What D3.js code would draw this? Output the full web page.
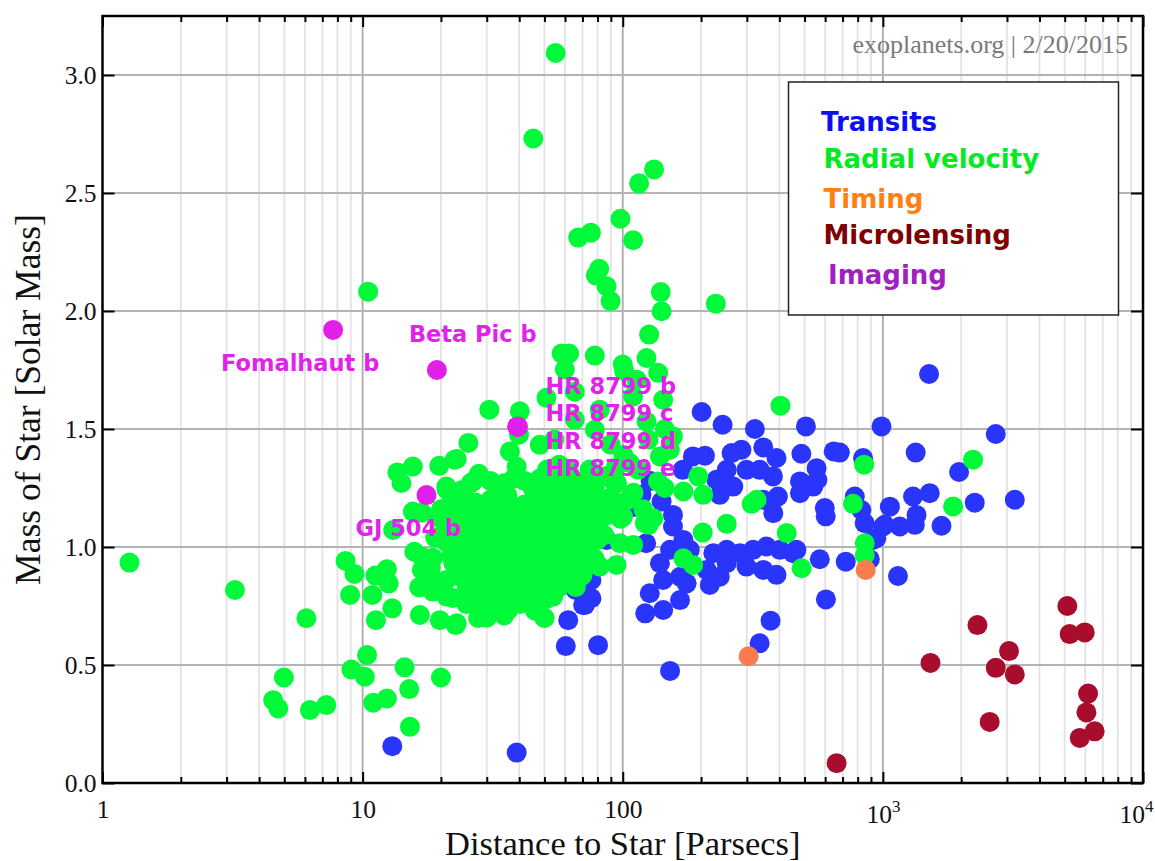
<!DOCTYPE html>
<html>
<head>
<meta charset="utf-8">
<script src="https://cdn.jsdelivr.net/npm/d3@7"></script>
<style>
  html, body { margin: 0; padding: 0; background: #fff; }
  svg { display: block; }
</style>
</head>
<body>
<svg id="chart" width="1155" height="861"></svg>
<script>
// ---- Data: [distance to star (pc), stellar mass (Msun)] per discovery method ----
const transits = [
  [13.0,0.156],[39.1,0.129],[1505,1.733],[201,1.572],[242,1.518],[322,1.50],[506,1.511],[988,1.511],
  [2716,1.479],[1337,1.40],[1963,1.318],[839,1.377],[647,1.405],[486,1.395],[556,1.334],[207,1.387],
  [262,1.398],[286,1.412],[347,1.422],[390,1.377],[251,1.327],[299,1.327],[336,1.327],[378,1.299],
  [229,1.285],[236,1.221],[266,1.256],[480,1.278],[540,1.256],[560,1.285],[598,1.165],[603,1.13],
  [480,1.228],[395,1.214],[347,1.20],[379,1.143],[141,1.193],[156,1.136],[156,1.087],[118,1.221],
  [128,1.28],[780,1.214],[851,1.101],[944,1.037],[1016,1.094],[1064,1.171],[1162,1.087],[1327,1.094],
  [1347,1.136],[1306,1.214],[1514,1.228],[1680,1.09],[2255,1.188],[3215,1.20],[1143,0.877],[572,0.948],
  [720,0.938],[891,0.948],[604,0.778],[370,0.688],[336,0.592],[465,0.988],[402,0.988],[357,1.002],
  [317,0.988],[282,0.974],[251,0.988],[223,0.974],[251,0.931],[299,0.917],[347,0.903],[390,0.882],
  [452,0.974],[210,0.903],[236,0.874],[216,0.839],[166,0.874],[176,0.846],[143,0.86],[139,0.931],
  [152,0.988],[171,1.03],[181,0.988],[127,0.804],[122,0.719],[143,0.733],[166,0.775],[75.8,0.783],
  [75.8,0.86],[86.7,1.03],[71.5,0.818],[71.5,0.754],[80.4,0.584],[123,1.016],[65.9,0.818],[70.4,0.754],
  [61.7,0.69],[60.4,0.58],[152,0.475],[827,1.157],[916,1.03],[1001,1.087],[186,1.384],[170,1.327],
  [683,1.40],[110,1.17]
];

const radialVelocity = [
  // nearby and widely scattered hosts
  [1.27,0.934],[3.23,0.818],[6.08,0.698],[8.6,0.941],[9.3,0.886],[8.95,0.797],[10.9,0.797],[11.2,0.879],
  [12.4,0.906],[12.6,0.846],[13.0,0.74],[11.25,0.69],[16.6,0.712],[19.8,0.69],[22.8,0.669],[16.5,0.829],
  [18.6,0.811],[16.9,0.903],[15.8,0.98],[16.9,0.959],[18.6,0.954],[18.3,0.911],[22.0,0.959],[10.4,0.542],
  [9.05,0.481],[10.2,0.45],[4.98,0.447],[4.53,0.351],[4.74,0.316],[6.27,0.309],[7.25,0.33],[10.98,0.34],
  [12.4,0.358],[14.5,0.49],[15.1,0.398],[15.2,0.238],[20.0,0.447],[10.5,2.082],[55.2,3.093],[45.3,2.731],
  [132,2.60],[115.6,2.541],[98,2.391],[109.6,2.30],[67.4,2.311],[75.4,2.332],[81.2,2.179],[78.8,2.151],
  [86.6,2.105],[89.8,2.042],[140,2.08],[141,1.999],[228,2.031],[126.3,1.90],[58.2,1.82],[62.2,1.82],
  [78.1,1.811],[123.4,1.801],[101.3,1.745],[136.8,1.738],[59.9,1.752],[50.9,1.632],[30.7,1.582],[40.2,1.575],
  [39.9,1.476],[25.5,1.441],[36.8,1.405],[48.0,1.433],[39.1,1.341],[113,1.709],[109.6,1.638],[123.4,1.532],
  [156,1.469],[151.7,1.412],[22.6,1.37],[21.0,1.256],[26.6,1.278],[13.6,1.316],[14.1,1.271],[15.6,1.341],
  [23.0,1.373],[19.7,1.344],[21.0,1.245],[143,1.624],[138.9,1.384],[106.5,1.356],[100,1.773],[145,1.50],
  [65.4,1.540],[78.1,1.497],[89.7,1.434],[100.5,1.391],[125.6,1.455],[57.0,1.349],[74.6,1.328],[93.9,1.336],
  [114.6,1.328],[65.4,1.658],[81.6,1.582],[54.6,1.455],[51.2,1.328],
  // distant hosts among the transit systems
  [404,1.599],[847,1.349],[2222,1.37],[1862,1.172],[768,1.183],[852,1.016],[852,0.966],[427,1.059],
  [487,0.91],[327,1.20],[313,1.183],[251,1.098],[203,1.061],[171,0.952],[186.5,0.924],[204,1.221],
  [195,1.299],[171,1.235],[145,1.25],[131,1.122],[121.6,1.101],[100.3,1.129],[97.5,1.016],[109.7,1.009],
  [94.6,0.924],[81.6,0.917],[72.6,0.931],[136.5,1.278],[65.4,0.95],[97.5,1.135],[125.6,1.094],
  // edges of the main cluster
  [15.6,1.15],[16.9,1.145],[13.1,1.072],[19.8,1.122],[22.3,0.974],[22.3,0.933],[18.7,0.86],[21.0,0.86],
  [21.0,0.79],[23.0,0.677],[27.8,0.699],[36.3,0.733],[43.9,0.775],[50.0,0.699],[31.5,0.775],[25.1,0.758],
  [22.2,0.784],[28.1,0.72],[35.3,0.72],[40.2,0.758],[46.7,0.75],
  // main cluster, 20-120 pc
  [28,1.31],[38,1.29],[55,1.30],[62,1.32],[70,1.28],[85,1.30],
  [26,1.27],[31,1.28],[35,1.27],[42,1.28],[48,1.29],[58,1.27],[66,1.28],[75,1.29],[92,1.28],
  [24,1.24],[33,1.26],[45,1.25],[52,1.23],[60,1.26],[68,1.24],[78,1.25],[95,1.27],[110,1.23],
  [22,1.21],[27,1.19],[31,1.20],[36,1.22],[42,1.18],[48,1.21],[56,1.19],[63,1.20],[72,1.22],[82,1.19],[90,1.21],[105,1.20],
  [23,1.17],[26,1.18],[32,1.18],[38,1.17],[46,1.18],[53,1.17],[61,1.18],[69,1.17],[78,1.18],[95,1.17],
  [20,1.16],[25,1.14],[29,1.15],[34,1.17],[39,1.13],[44,1.16],[50,1.14],[58,1.15],[66,1.17],[75,1.13],[88,1.15],[120,1.16],
  [22,1.12],[28,1.13],[31,1.12],[35,1.13],[43,1.12],[48,1.13],[55,1.12],[63,1.13],[72,1.12],[85,1.13],
  [21,1.09],[26,1.11],[30,1.10],[33,1.08],[37,1.12],[41,1.09],[46,1.11],[52,1.10],[59,1.08],[68,1.11],[80,1.09],[98,1.12],
  [22,1.07],[26,1.08],[30,1.07],[36,1.08],[40,1.07],[45,1.08],[50,1.07],[57,1.08],[65,1.07],[76,1.08],
  [19,1.04],[24,1.06],[28,1.05],[32,1.03],[35,1.07],[38,1.04],[43,1.06],[48,1.05],[54,1.03],[61,1.06],[70,1.04],[85,1.05],
  [21,1.02],[25,1.03],[29,1.02],[32,1.01],[36,1.03],[42,1.02],[47,1.03],[53,1.02],[59,1.03],[67,1.02],[80,1.03],
  [23,1.01],[27,0.99],[30,1.02],[34,1.00],[37,0.98],[40,1.01],[45,0.99],[50,1.02],[56,1.00],[63,0.98],[72,1.01],
  [22,0.97],[26,0.98],[31,0.97],[35,0.98],[38,0.97],[44,0.98],[50,0.97],[57,0.98],[65,0.97],[74,0.98],
  [25,0.94],[29,0.96],[32,0.95],[36,0.93],[39,0.96],[42,0.94],[47,0.95],[53,0.97],[60,0.94],[68,0.96],[78,0.95],
  [23,0.93],[27,0.92],[30,0.93],[34,0.92],[40,0.93],[46,0.92],[51,0.93],[57,0.92],[64,0.93],[73,0.92],
  [24,0.91],[28,0.89],[31,0.90],[35,0.92],[38,0.88],[44,0.91],[49,0.89],[55,0.90],[62,0.92],[70,0.88],
  [24,0.87],[28,0.88],[32,0.87],[36,0.88],[40,0.87],[43,0.88],[49,0.87],[55,0.88],[62,0.87],
  [26,0.86],[30,0.84],[33,0.85],[37,0.87],[41,0.83],[46,0.86],[52,0.84],[58,0.85],[66,0.83],
  [27,0.82],[31,0.83],[36,0.82],[45,0.83],[51,0.82],[57,0.83],
  [25,0.81],[29,0.79],[34,0.80],[39,0.82],[43,0.78],[48,0.81],[54,0.79],
  [26,0.78],[33,0.77],[38,0.78],[44,0.77],[51,0.78],
  [27,0.76],[31,0.74],[36,0.75],[42,0.77],[46,0.73],
  [30,0.70],[35,0.71],[50,0.70]
];

const timing = [[859,0.903],[304.6,0.537]];

const microlensing = [
  [5118,0.75],[5224,0.631],[5970,0.638],[2310,0.669],[3055,0.559],[2716,0.488],[3214,0.46],
  [1524,0.509],[6150,0.379],[6060,0.299],[6518,0.219],[5713,0.191],[2574,0.259],[664,0.084]
];

const imaging = [[7.7,1.92],[19.3,1.75],[39.4,1.51],[39.4,1.51],[39.4,1.51],[39.4,1.51],[17.6,1.22]];
const imagingNames = ["Fomalhaut b","Beta Pic b","HR 8799 b","HR 8799 c","HR 8799 d","HR 8799 e","GJ 504 b"];

const legendLabels = ["Transits","Radial velocity","Timing","Microlensing","Imaging"];
const yTickValues = [0,0.5,1.0,1.5,2.0,2.5,3.0];
const xTickValues = [1,10,100,1000,10000];
const xTickBases = ["1","10","100","10","10"];
const xTickExponents = ["","","","3","4"];
const xMinorTicks = [];
[1,10,100,1000].forEach(dec => { for (let k = 2; k <= 9; k++) xMinorTicks.push(dec * k); });

// ---- Layout ----
const X0 = 102.5, X1 = 1143, Y0 = 783, Y1 = 16;
const svg = d3.select("#chart");
const x = d3.scaleLog().domain([1, 10000]).range([X0, X1]);
const y = d3.scaleLinear().domain([0, 3.25]).range([Y0, Y1]);

const serif = "'Liberation Serif', 'Times New Roman', serif";
const sansBold = "'DejaVu Sans', Verdana, sans-serif";

svg.append("rect").attr("width", 1155).attr("height", 861).attr("fill", "#fff");

// gridlines
const grid = svg.append("g");
grid.selectAll("line.minor").data(xMinorTicks).join("line")
  .attr("x1", d => x(d)).attr("x2", d => x(d)).attr("y1", Y1).attr("y2", Y0)
  .attr("stroke", "#e3e3e3").attr("stroke-width", 1.8);
grid.selectAll("line.majx").data([10,100,1000]).join("line")
  .attr("x1", d => x(d)).attr("x2", d => x(d)).attr("y1", Y1).attr("y2", Y0)
  .attr("stroke", "#ababab").attr("stroke-width", 1.8);
grid.selectAll("line.majy").data(yTickValues.filter(v => v > 0)).join("line")
  .attr("x1", X0).attr("x2", X1).attr("y1", d => y(d)).attr("y2", d => y(d))
  .attr("stroke", "#b4b4b4").attr("stroke-width", 2);

// points
svg.append("clipPath").attr("id", "plotclip").append("rect")
  .attr("x", X0).attr("y", Y1).attr("width", X1 - X0).attr("height", Y0 - Y1);
const pts = svg.append("g").attr("clip-path", "url(#plotclip)");
const series = [
  [transits, "#2a35fb"],
  [radialVelocity, "#00fa3a"],
  [timing, "#fb7c4c"],
  [microlensing, "#a80d2e"],
  [imaging, "#e11fe8"]
];
series.forEach(([data, color]) => {
  pts.append("g").selectAll("circle").data(data).join("circle")
    .attr("cx", d => x(d[0])).attr("cy", d => y(d[1])).attr("r", 10)
    .attr("fill", color);
});

// labels for directly imaged planets
const labelOffsets = {
  "Fomalhaut b": [-112, 41],
  "Beta Pic b": [-28, -28],
  "HR 8799 b": [28, -33],
  "HR 8799 c": [28, -5.5],
  "HR 8799 d": [28, 22],
  "HR 8799 e": [28, 49.5],
  "GJ 504 b": [-71, 41]
};
svg.append("g").selectAll("text").data(imaging).join("text")
  .attr("x", (d, i) => x(d[0]) + labelOffsets[imagingNames[i]][0])
  .attr("y", (d, i) => y(d[1]) + labelOffsets[imagingNames[i]][1])
  .attr("font-family", sansBold).attr("font-weight", "bold").attr("font-size", 22.5)
  .attr("fill", "#e022ea")
  .text((d, i) => imagingNames[i]);

// axes (ticks point inward)
function styleAxis(g) {
  g.select(".domain").remove();
  g.selectAll(".tick line").attr("stroke", "#000").attr("stroke-width", 2);
}
svg.append("g").attr("transform", `translate(${X0},0)`)
  .call(d3.axisLeft(y).tickValues(yTickValues).tickSize(-12).tickPadding(6).tickFormat(d3.format(".1f")))
  .call(styleAxis)
  .call(g => g.selectAll("text").attr("font-family", serif).attr("font-size", 25.5).attr("fill", "#111"));
svg.append("g").attr("transform", `translate(${X1},0)`)
  .call(d3.axisRight(y).tickValues(yTickValues).tickSize(-12).tickFormat(""))
  .call(styleAxis);

const xAxisBottom = svg.append("g").attr("transform", `translate(0,${Y0})`)
  .call(d3.axisBottom(x).tickValues(xTickValues).tickSize(-11).tickPadding(17).tickFormat(""))
  .call(styleAxis);
xAxisBottom.selectAll(".tick text").each(function(d, i) {
  const t = d3.select(this)
    .attr("font-family", serif).attr("font-size", 25.5).attr("fill", "#111");
  t.append("tspan").text(xTickBases[i]);
  if (xTickExponents[i]) {
    t.attr("dy", "0.9em");
    t.append("tspan").attr("dy", "-0.62em").attr("font-size", 17).text(xTickExponents[i]);
  }
  // keep the last label inside the canvas
  if (i === xTickValues.length - 1) t.attr("text-anchor", "end").attr("x", 10);
});
svg.append("g").attr("transform", `translate(0,${Y0})`)
  .call(d3.axisBottom(x).tickValues(xMinorTicks).tickSize(-6).tickFormat(""))
  .call(styleAxis);
svg.append("g").attr("transform", `translate(0,${Y1})`)
  .call(d3.axisTop(x).tickValues(xTickValues).tickSize(-11).tickFormat(""))
  .call(styleAxis);
svg.append("g").attr("transform", `translate(0,${Y1})`)
  .call(d3.axisTop(x).tickValues(xMinorTicks).tickSize(-6).tickFormat(""))
  .call(styleAxis);

// frame
svg.append("rect").attr("x", X0).attr("y", Y1).attr("width", X1 - X0).attr("height", Y0 - Y1)
  .attr("fill", "none").attr("stroke", "#000").attr("stroke-width", 2.5);

// axis titles
svg.append("text").attr("x", (X0 + X1) / 2).attr("y", 855).attr("text-anchor", "middle")
  .attr("font-family", serif).attr("font-size", 34.5).attr("fill", "#111")
  .text("Distance to Star [Parsecs]");
svg.append("text").attr("transform", `translate(40,${(Y0 + Y1) / 2}) rotate(-90)`)
  .attr("text-anchor", "middle")
  .attr("font-family", serif).attr("font-size", 35.5).attr("fill", "#111")
  .text("Mass of Star [Solar Mass]");

// source note
svg.append("text").attr("x", 1128).attr("y", 53).attr("text-anchor", "end")
  .attr("font-family", serif).attr("font-size", 26).attr("fill", "#7a7a7a")
  .text("exoplanets.org | 2/20/2015");

// legend
const legendColors = ["#0a10f0", "#00ec20", "#ff8012", "#800000", "#a020c0"];
const legendX = [821, 823.5, 823.5, 823.5, 828];
const legendY = [131, 168, 208, 244, 284];
const lg = svg.append("g");
lg.append("rect").attr("x", 788.5).attr("y", 82).attr("width", 330).attr("height", 233)
  .attr("fill", "#fff").attr("stroke", "#222").attr("stroke-width", 1.5);
lg.selectAll("text").data(legendLabels).join("text")
  .attr("x", (d, i) => legendX[i]).attr("y", (d, i) => legendY[i])
  .attr("font-family", sansBold).attr("font-weight", "bold").attr("font-size", 26)
  .attr("fill", (d, i) => legendColors[i])
  .text(d => d);
</script>
</body>
</html>
